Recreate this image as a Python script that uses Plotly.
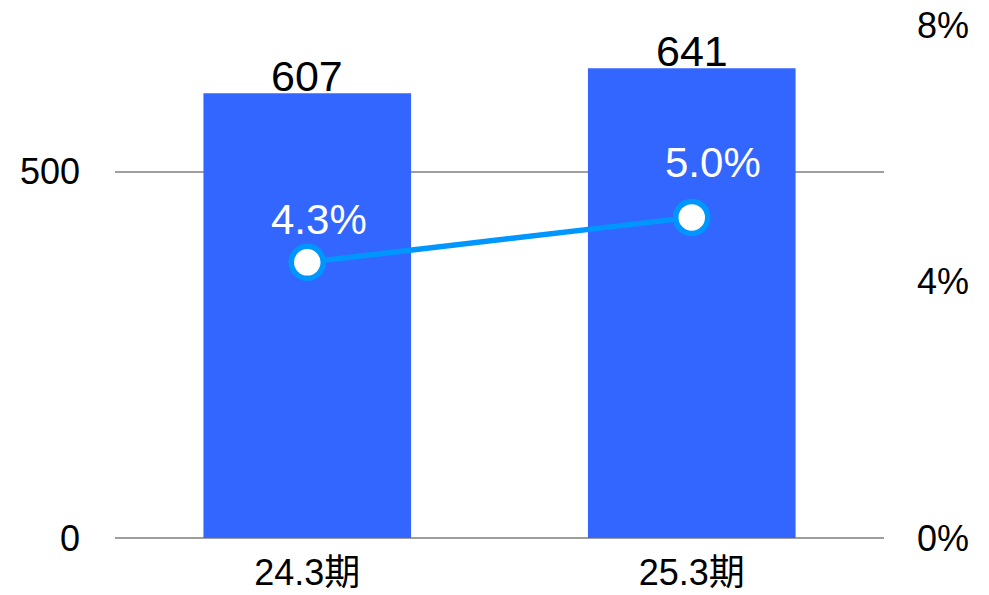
import plotly.graph_objects as go

categories = ["24.3期", "25.3期"]
sales = [607, 641]
margin_rate = [0.043, 0.050]
left_ticks = [0, 500]
right_ticks = [0, 0.04, 0.08]

# label offsets (pixels) for the rate labels, as placed in the original
rate_label_dx = [12, 21]
rate_label_dy = [43, 55]

FONT = "Liberation Sans, Arial, Noto Sans CJK JP, sans-serif"
LINE_COLOR = "#0096FF"

fig = go.Figure()
fig.add_trace(go.Bar(
    x=categories, y=sales,
    marker=dict(color="#3366FF", line=dict(width=0)),
    cliponaxis=False, yaxis="y",
))
fig.add_trace(go.Scatter(
    x=categories, y=margin_rate, mode="lines+markers",
    line=dict(color=LINE_COLOR, width=5.5),
    marker=dict(size=32, color="white", line=dict(color=LINE_COLOR, width=5.5)),
    cliponaxis=False, yaxis="y2",
))

for c, v in zip(categories, sales):
    fig.add_annotation(
        x=c, y=v, xref="x", yref="y", text=str(v),
        showarrow=False, yanchor="bottom", yshift=-9,
        font=dict(color="black", size=43, family=FONT),
    )

for c, v, dx, dy in zip(categories, margin_rate, rate_label_dx, rate_label_dy):
    fig.add_annotation(
        x=c, y=v, xref="x", yref="y2", text=f"{v*100:.1f}%",
        showarrow=False, xshift=dx, yshift=dy,
        font=dict(color="white", size=42, family=FONT),
    )

fig.update_layout(
    width=989, height=595,
    margin=dict(l=115, r=105, t=25, b=57, autoexpand=False),
    paper_bgcolor="white", plot_bgcolor="white",
    showlegend=False, bargap=0.46,
    font=dict(family=FONT, size=36, color="black"),
    xaxis=dict(showgrid=False, showline=False, ticks="", ticklabelstandoff=10,
               tickfont=dict(size=36), automargin=False),
    yaxis=dict(range=[0, 700], tickvals=left_ticks, showgrid=True,
               gridcolor="#9E9E9E", gridwidth=1.5, zeroline=True,
               zerolinecolor="#9E9E9E", zerolinewidth=1.5,
               showline=False, ticks="", ticklabelstandoff=34, automargin=False),
    yaxis2=dict(range=[0, 0.08], tickvals=right_ticks, tickformat=".0%",
                overlaying="y", side="right", showgrid=False, zeroline=False,
                showline=False, ticks="", ticklabelstandoff=32, automargin=False),
)

fig.write_html("out.html", config={"displayModeBar": False},
               post_script="document.body.style.margin='0';")
